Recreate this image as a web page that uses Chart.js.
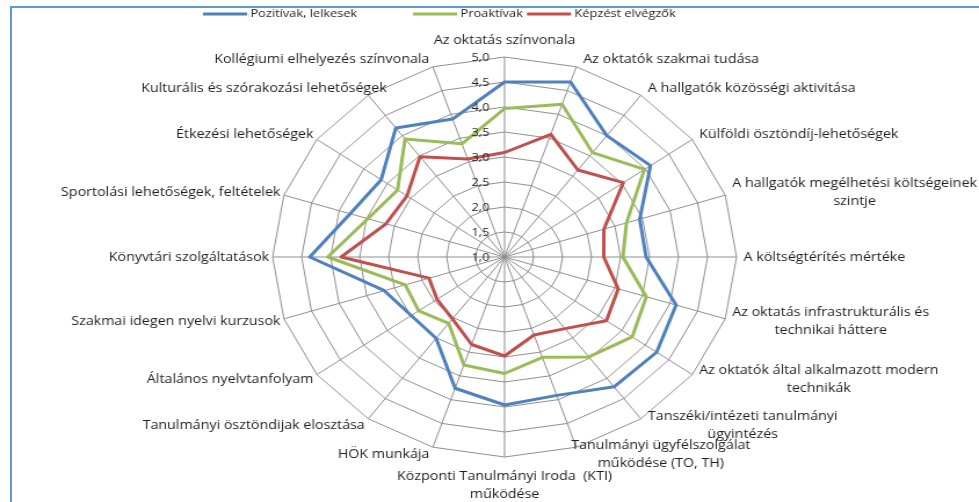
<!DOCTYPE html>
<html>
<head>
<meta charset="utf-8">
<script src="https://cdn.jsdelivr.net/npm/chart.js@4.4.0/dist/chart.umd.min.js"></script>
<style>
    html, body { margin: 0; padding: 0; background: #fff; overflow: hidden; }
    #frame { position: absolute; left: 10px; top: 6px; width: 1000px; height: 520px; border: 2px solid #5b9bd5; box-sizing: border-box; }
    #chart { position: absolute; left: 0; top: 0; }
</style>
</head>
<body>
<div id="frame"></div>
<!-- the original picture is stretched sideways, so the canvas is drawn narrow and widened by css -->
<canvas id="chart" width="844" height="502" style="width:979px;height:502px"></canvas>
<script>
const categories = [
    "Az oktatás színvonala",
    "Az oktatók szakmai tudása",
    "A hallgatók közösségi aktivitása",
    "Külföldi ösztöndíj-lehetőségek",
    ["A hallgatók megélhetési költségeinek", "szintje"],
    "A költségtérítés mértéke",
    ["Az oktatás infrastrukturális és", "technikai háttere"],
    ["Az oktatók által alkalmazott modern", "technikák"],
    ["Tanszéki/intézeti tanulmányi", "ügyintézés"],
    ["Tanulmányi ügyfélszolgálat", "működése (TO, TH)"],
    ["Központi Tanulmányi Iroda  (KTI)", "működése"],
    "HÖK munkája",
    "Tanulmányi ösztöndijak elosztása",
    "Általános nyelvtanfolyam",
    "Szakmai idegen nyelvi kurzusok",
    "Könyvtári szolgáltatások",
    "Sportolási lehetőségek, feltételek",
    "Étkezési lehetőségek",
    "Kulturális és szórakozási lehetőségek",
    "Kollégiumi elhelyezés színvonala"
];

const seriesNames = ["Pozitívak, lelkesek", "Proaktívak", "Képzést elvégzők"];
const pozitivak  = [4.50, 4.68, 4.00, 4.11, 3.45, 3.44, 4.11, 4.24, 4.21, 3.91, 3.96, 3.76, 3.01, 2.99, 3.18, 4.36, 3.80, 3.63, 4.19, 3.90];
const proaktivak = [3.97, 4.21, 3.58, 3.98, 3.21, 3.04, 3.57, 3.72, 3.47, 3.11, 3.33, 3.27, 2.64, 2.83, 2.80, 4.05, 3.48, 3.28, 3.92, 3.38];
const elvegzok   = [3.09, 3.58, 3.15, 3.53, 2.80, 2.71, 3.06, 3.17, 2.77, 2.64, 2.98, 2.84, 2.53, 2.44, 2.37, 3.82, 3.15, 3.08, 3.48, 3.06];

const tickLabels = ["1,0", "1,5", "2,0", "2,5", "3,0", "3,5", "4,0", "4,5", "5,0"];

const STRETCH = 979 / 844;
const labelFont = '12.3px "Open Sans"';
const tickFont = '11px "Open Sans"';
const legendFont = '11px "Open Sans"';
const textColor = "#1e1e1e";
// legend entries sit unevenly in the original, so they get their own spots (page px)
const legendX = [203, 413, 527];
const legendY = 14;
// a couple of labels Excel pushed sideways (page px)
const labelNudge = { 9: -12, 18: 22 };

// Excel style labels: beside the spoke ends, lines centred on each other
const excelLabels = {
    id: "excelLabels",
    afterDraw(chart) {
        const scale = chart.scales.r;
        const ctx = chart.ctx;
        const lineH = 18;
        ctx.save();
        ctx.font = labelFont;
        ctx.fillStyle = textColor;
        ctx.textBaseline = "middle";
        ctx.textAlign = "center";

        categories.forEach((label, i) => {
            const lines = Array.isArray(label) ? label : [label];
            const angle = scale.getIndexAngle(i);
            const sin = Math.sin(angle);
            const cos = Math.cos(angle);
            const end = scale.getPointPosition(i, scale.drawingArea);
            const w = Math.max(...lines.map(l => ctx.measureText(l).width));
            const h = lines.length * lineH;
            let cx, cy;
            if (Math.abs(sin) < 0.01) {
                cx = end.x;
                cy = cos > 0 ? end.y - 8 - h / 2 : end.y + 10 + h / 2;
            } else if (sin > 0) {
                cx = end.x + 6 + w / 2;
                cy = end.y - 8 * cos;
            } else {
                cx = end.x - 3 - w / 2;
                cy = end.y - 8 * cos;
            }
            cx += (labelNudge[i] || 0) / STRETCH;
            lines.forEach((l, k) => ctx.fillText(l, cx, cy - h / 2 + lineH * (k + 0.5)));
        });

        // value labels left of the vertical axis
        ctx.font = tickFont;
        ctx.textAlign = "right";
        scale.ticks.forEach((t, i) => {
            const d = scale.getDistanceFromCenterForValue(t.value);
            ctx.fillText(tickLabels[i], scale.xCenter - 13, scale.yCenter - d + 1);
        });

        // legend: short line in the series colour, then its name
        ctx.font = legendFont;
        ctx.textAlign = "left";
        chart.data.datasets.forEach((ds, i) => {
            const x = legendX[i] / STRETCH;
            ctx.strokeStyle = ds.borderColor;
            ctx.lineWidth = 3;
            ctx.beginPath();
            ctx.moveTo(x, legendY);
            ctx.lineTo(x + 38, legendY);
            ctx.stroke();
            ctx.fillText(ds.label, x + 41, legendY);
        });
        ctx.restore();
    }
};

const ctx = document.getElementById("chart").getContext("2d");

new Chart(ctx, {
    type: "radar",
    data: {
        labels: categories,
        datasets: [
            { label: seriesNames[0], data: pozitivak,  borderColor: "#4f81bd" },
            { label: seriesNames[1], data: proaktivak, borderColor: "#9bbb59" },
            { label: seriesNames[2], data: elvegzok,   borderColor: "#c0504d" }
        ]
    },
    options: {
        responsive: false,
        devicePixelRatio: 1,
        animation: false,
        elements: {
            line: { borderWidth: 3, fill: false, tension: 0, borderJoinStyle: "round" },
            point: { radius: 0, hoverRadius: 0 }
        },
        plugins: {
            tooltip: { enabled: false },
            legend: { display: false }
        },
        scales: {
            r: {
                min: 1,
                max: 5,
                ticks: { stepSize: 0.5, display: false },
                pointLabels: { display: false },
                grid: { color: "#8f8f8f", lineWidth: 1 },
                angleLines: { color: "#8f8f8f", lineWidth: 1 },
                // keep the plot where the original puts it
                afterFit(scale) {
                    scale.xCenter = 435;
                    scale.yCenter = 257;
                    scale.drawingArea = 200;
                }
            }
        }
    },
    plugins: [excelLabels]
});
</script>
</body>
</html>
